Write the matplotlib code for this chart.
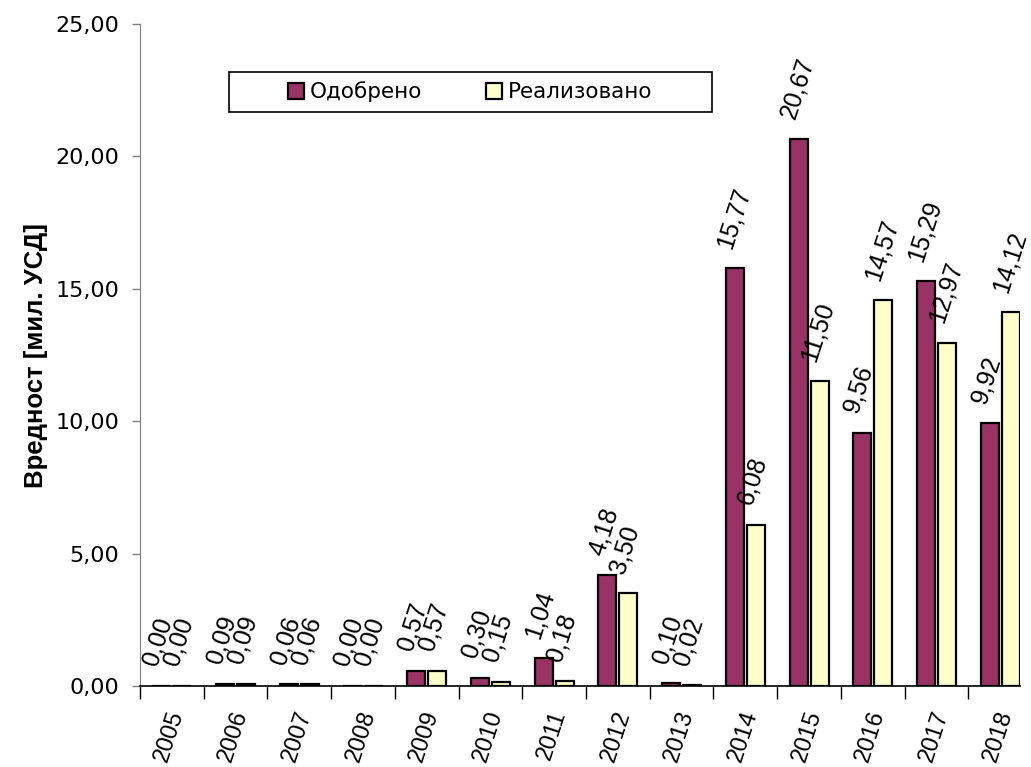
import matplotlib
matplotlib.use('Agg')
import matplotlib.pyplot as plt
import matplotlib.patches as mpatches
from matplotlib.transforms import ScaledTranslation
import numpy as np

# Data
years = ['2005', '2006', '2007', '2008', '2009', '2010', '2011',
         '2012', '2013', '2014', '2015', '2016', '2017', '2018']
odobreno = [0.00, 0.09, 0.06, 0.00, 0.57, 0.30, 1.04, 4.18, 0.10, 15.77, 20.67, 9.56, 15.29, 9.92]
realizovano = [0.00, 0.09, 0.06, 0.00, 0.57, 0.15, 0.18, 3.50, 0.02, 6.08, 11.50, 14.57, 12.97, 14.12]
yticks = [0, 5, 10, 15, 20, 25]

purple = '#993366'
yellow = '#FFFFCC'

plt.rcParams['font.family'] = ['DejaVu Sans']

fig = plt.figure(figsize=(10.31, 7.67), dpi=100)
ax = fig.add_axes([140 / 1031, 1 - 686 / 767, 880 / 1031, 662 / 767])

x = np.arange(len(years))
w = 0.283
off = 0.165
ax.bar(x - off, odobreno, w, color=purple, edgecolor='black', linewidth=1.6, label='Одобрено')
ax.bar(x + off, realizovano, w, color=yellow, edgecolor='black', linewidth=1.6, label='Реализовано')

def fmt(v):
    return f'{v:.2f}'.replace('.', ',')

lab_font = ['Liberation Sans', 'DejaVu Sans']
for xi, v in zip(x - off, odobreno):
    ax.annotate(fmt(v), (xi, v), xytext=(-8, 15), textcoords='offset points',
                rotation=72, rotation_mode='anchor', ha='left', va='center',
                fontsize=18, family=lab_font, clip_on=False)
for xi, v in zip(x + off, realizovano):
    ax.annotate(fmt(v), (xi, v), xytext=(-8, 15), textcoords='offset points',
                rotation=72, rotation_mode='anchor', ha='left', va='center',
                fontsize=18, family=lab_font, clip_on=False)

ax.set_xlim(-0.5, 13.31)
ax.set_ylim(0, 25)

# y axis
ax.set_yticks(yticks)
ax.set_yticklabels([fmt(t) for t in yticks], fontsize=16)
ax.tick_params(axis='y', direction='out', length=6, width=1, color='#808080', pad=9)

# x axis: labels at centers, tick marks at category boundaries
ax.set_xticks(x)
ax.set_xticklabels(years, fontsize=17, family=lab_font, rotation=72, ha='right',
                   va='center', rotation_mode='anchor')
ax.set_xticks(np.arange(-0.5, 13.5, 1.0), minor=True)
ax.tick_params(axis='x', which='major', length=0, pad=18)
ax.tick_params(axis='x', which='minor', direction='out', length=9, width=1, color='black')
for lbl in ax.get_xticklabels():
    lbl.set_transform(lbl.get_transform() + ScaledTranslation(6 / 100, 0, fig.dpi_scale_trans))

ax.spines['top'].set_visible(False)
ax.spines['right'].set_visible(False)
ax.spines['left'].set_color('#808080')
ax.spines['bottom'].set_color('black')
ax.spines['bottom'].set_linewidth(1.2)

ax.set_ylabel('Вредност [мил. УСД]', fontsize=18.5, fontweight='bold',
              family=['Liberation Sans', 'DejaVu Sans'])
ax.yaxis.set_label_coords(-92 / 880, 0.5)

# legend with a plain rectangular frame
frame = mpatches.Rectangle((229 / 1031, 1 - 112 / 767), 483 / 1031, 40 / 767,
                           transform=fig.transFigure, facecolor='white',
                           edgecolor='black', linewidth=1.2, zorder=5)
fig.patches.append(frame)
leg = fig.legend(loc='center', bbox_to_anchor=(470 / 1031, 1 - 92 / 767), ncol=2,
                 frameon=False, fontsize=15.5, handlelength=0.75, handleheight=0.75,
                 handletextpad=0.25, columnspacing=3.0)
leg.set_zorder(6)

fig.savefig('out.png', dpi=100)
